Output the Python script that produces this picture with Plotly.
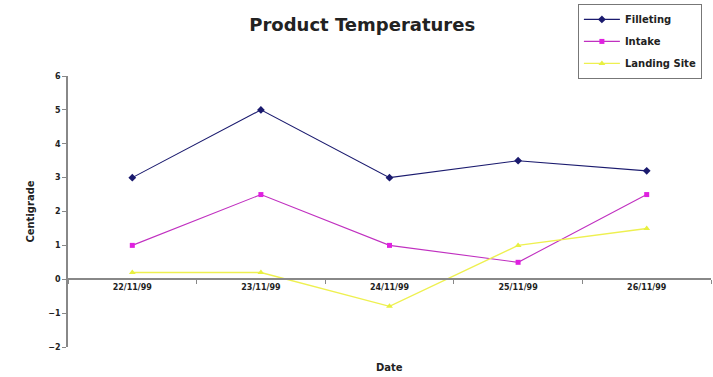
import plotly.graph_objects as go

dates = ["22/11/99", "23/11/99", "24/11/99", "25/11/99", "26/11/99"]
filleting = [3.0, 5.0, 3.0, 3.5, 3.2]
intake = [1.0, 2.5, 1.0, 0.5, 2.5]
landing_site = [0.2, 0.2, -0.8, 1.0, 1.5]
y_ticks = [-2, -1, 0, 1, 2, 3, 4, 5, 6]

y_min, y_max = -2, 6
font_family = "DejaVu Sans, Verdana, sans-serif"
tick_font = dict(size=8, family=font_family, color="#222", weight="bold")
legend_font = dict(size=10, family=font_family, color="#222", weight="bold")
label_font = dict(size=10, family=font_family, color="#222", weight="bold")

fig = go.Figure()
fig.add_trace(go.Scatter(
    x=dates, y=filleting, name="Filleting", mode="lines+markers", legendgroup="a",
    line=dict(color="#1a1a6e", width=1.1),
    marker=dict(symbol="diamond", size=6, color="#1a1a6e"),
))
fig.add_trace(go.Scatter(
    x=dates, y=intake, name="Intake", mode="lines+markers", legendgroup="b",
    line=dict(color="#c030c0", width=1.1),
    marker=dict(symbol="square", size=5, color="#e020e0"),
))
fig.add_trace(go.Scatter(
    x=dates, y=landing_site, name="Landing Site", mode="lines+markers", legendgroup="c",
    line=dict(color="#eef050", width=1.4),
    marker=dict(symbol="triangle-up", size=6, color="#e8f040"),
))

# category axis crosses the value axis at zero
zero_pos = (0 - y_min) / (y_max - y_min)

fig.update_layout(
    width=713, height=377,
    margin=dict(l=68, r=2, t=76, b=30),
    paper_bgcolor="white", plot_bgcolor="white",
    font=dict(family=font_family, color="#222", size=9),
    title=dict(text="Product Temperatures", x=0.508, xanchor="center",
               y=0.935, yanchor="middle",
               font=dict(size=18, family=font_family, color="#222", weight="bold")),
    showlegend=True,
    legend=dict(x=0.793, y=1.266, xanchor="left", yanchor="top",
                bordercolor="#777", borderwidth=1, bgcolor="white",
                font=legend_font, tracegroupgap=3, itemwidth=36),
    xaxis=dict(
        type="category", range=[-0.5, 4.5],
        anchor="free", position=zero_pos,
        showline=True, linecolor="#888", linewidth=1.5,
        ticks="outside", ticklen=4, tickcolor="#888", tickson="boundaries",
        tickfont=tick_font,
        showgrid=False, zeroline=False,
    ),
    yaxis=dict(
        range=[y_min, y_max], tickvals=y_ticks,
        showline=True, linecolor="#888", linewidth=1.5,
        ticks="outside", ticklen=4, tickcolor="#888",
        tickfont=tick_font,
        showgrid=False, zeroline=False,
        title=dict(text="Centigrade", standoff=12, font=label_font),
    ),
)

fig.add_annotation(text="Date", xref="paper", yref="paper",
                   x=0.5, y=-0.075, xanchor="center", yanchor="middle",
                   showarrow=False, font=label_font)

fig.write_html("out.html")
